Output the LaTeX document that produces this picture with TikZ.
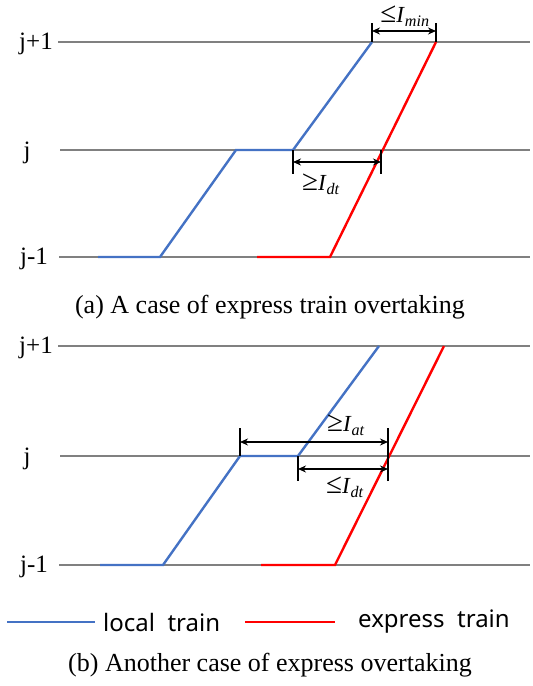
\documentclass[tikz,border=0pt]{standalone}
\usepackage{fontspec}
\setmainfont{Liberation Serif}
\newfontfamily\legendfont{Noto Sans}
\usetikzlibrary{arrows.meta}

\definecolor{localblue}{HTML}{4472C4}
\definecolor{expressred}{HTML}{FF0000}

\newcommand{\bigrel}[1]{{\fontsize{29}{30}\selectfont #1}}

\tikzset{
  station/.style={gray, line width=1.1pt},
  localtrain/.style={localblue, line width=2.4pt},
  expresstrain/.style={expressred, line width=2.4pt},
  tick/.style={black, line width=1.3pt},
  gap/.style={black, line width=1.3pt, {Stealth[length=8pt,width=7pt]}-{Stealth[length=8pt,width=7pt]}},
  stationlabel/.style={inner sep=0pt, font=\fontsize{25}{28}\selectfont},
  caption/.style={inner sep=0pt, font=\fontsize{26}{30}\selectfont},
  gaplabel/.style={inner sep=0pt, font=\fontsize{23}{26}\selectfont},
  legendtext/.style={inner sep=0pt, anchor=west, font=\legendfont\fontsize{24}{28}\selectfont}
}

\begin{document}
\begin{tikzpicture}[x=1pt, y=-1pt]
\useasboundingbox (0,0) rectangle (533,686);

% (a) station lines
\draw[station] (58,42) -- (530,42);
\draw[station] (60,150) -- (530,150);
\draw[station] (59,257) -- (530,257);
\node[stationlabel] (aup) at (36,44) {j+1};
\node[stationlabel] (amid) at (27,153) {j};
\node[stationlabel] (alow) at (34,259) {j-1};

% (a) trains
\coordinate (al1) at (98,257);
\coordinate (al2) at (160,257);
\coordinate (al3) at (236,150);
\coordinate (al4) at (293,150);
\coordinate (al5) at (372,42);
\draw[localtrain] (al1) -- (al2) -- (al3) -- (al4) -- (al5);
\coordinate (ae1) at (257,257);
\coordinate (ae2) at (330,257);
\coordinate (ae3) at (436,42);
\draw[expresstrain] (ae1) -- (ae2) -- (ae3);
\coordinate (across) at (381,150);

% (a) headways
\draw[tick] (al5) -- ++(0,-19) coordinate (aminl);
\draw[tick] (ae3) -- ++(0,-19) coordinate (aminr);
\draw[gap] ([yshift=-8]aminl) -- ([yshift=-8]aminr);
\node[gaplabel] (aminlab) at (405,16) {\bigrel{≤}\textit{I}\textsubscript{\textit{min}}};
\draw[tick] (al4) -- ++(0,24) coordinate (adtl);
\draw[tick] (across) -- ++(0,24) coordinate (adtr);
\draw[gap] ([yshift=12]adtl) -- ([yshift=12]adtr);
\node[gaplabel] (adtlab) at (321,184) {\bigrel{≥}\textit{I}\textsubscript{\textit{dt}}};

\node[caption] (capa) at (270,307) {(a) A case of express train overtaking};

% (b) station lines
\draw[station] (58,346) -- (530,346);
\draw[station] (60,456) -- (530,456);
\draw[station] (59,565) -- (530,565);
\node[stationlabel] (bup) at (36,348) {j+1};
\node[stationlabel] (bmid) at (27,459) {j};
\node[stationlabel] (blow) at (34,567) {j-1};

% (b) trains
\coordinate (bl1) at (100,565);
\coordinate (bl2) at (163,565);
\coordinate (bl3) at (240,456);
\coordinate (bl4) at (298,456);
\coordinate (bl5) at (379,346);
\draw[localtrain] (bl1) -- (bl2) -- (bl3) -- (bl4) -- (bl5);
\coordinate (be1) at (261,565);
\coordinate (be2) at (335,565);
\coordinate (be3) at (444,346);
\draw[expresstrain] (be1) -- (be2) -- (be3);
\coordinate (bcross) at (388,456);

% (b) headways
\draw[tick] (bl3) -- ++(0,-28) coordinate (batl);
\draw[tick] ([yshift=-25]bcross) -- ++(0,-53) coordinate (batr);
\draw[gap] ([yshift=-14]batl) -- ([yshift=-14]batr);
\node[gaplabel] (batlab) at (346,425) {\bigrel{≥}\textit{I}\textsubscript{\textit{at}}};
\draw[tick] (bl4) -- ++(0,25) coordinate (bdtl);
\draw[gap] ([yshift=12]bdtl) -- ([yshift=-13]bcross);
\node[gaplabel] (bdtlab) at (345,487) {\bigrel{≤}\textit{I}\textsubscript{\textit{dt}}};

% legend
\coordinate (legl1) at (7,622);
\coordinate (legl2) at (95,622);
\draw[localtrain] (legl1) -- (legl2);
\node[legendtext] (leglocal) at (103,622) {local\ \ train};
\coordinate (lege1) at (245,622);
\coordinate (lege2) at (335,622);
\draw[expresstrain] (lege1) -- (lege2);
\node[legendtext] (legexpress) at (358,622) {express\ \ train};

\node[caption] (capb) at (270,665) {(b) Another case of express overtaking};
\end{tikzpicture}
\end{document}
